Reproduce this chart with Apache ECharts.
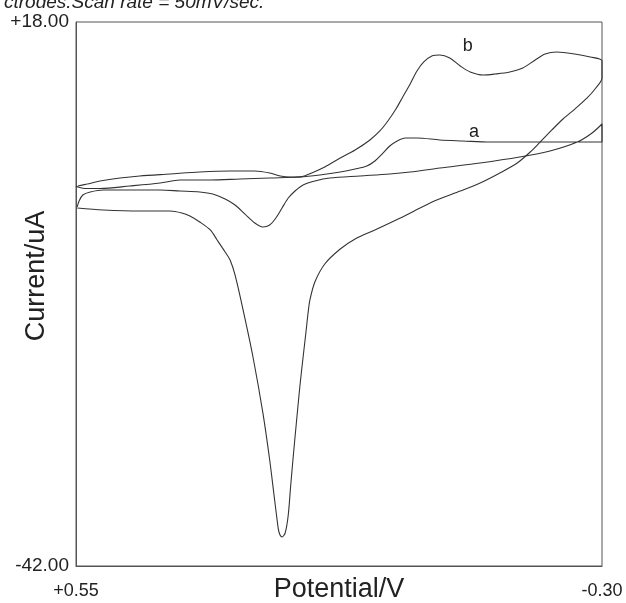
<!DOCTYPE html>
<html>
<head>
<meta charset="utf-8">
<script src="https://cdn.jsdelivr.net/npm/echarts@6/dist/echarts.min.js"></script>
<style>
  html, body { margin: 0; padding: 0; background: #fff; }
  #main { width: 626px; height: 603px; }
</style>
</head>
<body>
<div id="main"></div>
<script>
// potential (V) and current (uA), one closed scan per curve
const curveA_V = [0.548, 0.545, 0.539, 0.527, 0.506, 0.463, 0.414, 0.382, 0.350, 0.329, 0.309, 0.293, 0.277, 0.261, 0.248, 0.237, 0.227, 0.217, 0.207, 0.196, 0.183, 0.164, 0.140, 0.091, 0.043, 0.010, -0.038, -0.103, -0.167, -0.216, -0.260, -0.284, -0.300,
  -0.300, -0.232, -0.167, -0.119, -0.075, -0.038, -0.001, 0.018, 0.031, 0.043, 0.054, 0.067, 0.080, 0.099, 0.123, 0.156, 0.188, 0.237, 0.285, 0.333, 0.382, 0.414, 0.463, 0.511, 0.535, 0.547, 0.550];
const curveA_I = [-2.40, -1.74, -1.08, -0.75, -0.53, -0.53, -0.53, -0.64, -0.75, -0.97, -1.52, -2.18, -3.18, -4.17, -4.61, -4.39, -3.62, -2.51, -1.41, -0.64, 0.02, 0.46, 0.79, 1.02, 1.24, 1.46, 1.90, 2.45, 3.11, 3.77, 4.76, 5.76, 6.75,
  4.76, 4.76, 4.76, 4.76, 4.88, 4.99, 5.21, 5.21, 4.88, 4.32, 3.55, 2.67, 2.12, 1.79, 1.46, 1.13, 0.90, 0.79, 0.68, 0.57, 0.57, 0.24, -0.09, -0.37, -0.37, -0.20, -0.09];

const curveB_V = [0.548, 0.506, 0.447, 0.398, 0.379, 0.366, 0.350, 0.333, 0.322, 0.309, 0.301, 0.293, 0.280, 0.264, 0.248, 0.237, 0.230, 0.225, 0.222, 0.217, 0.212, 0.207, 0.203, 0.198, 0.193, 0.188, 0.183, 0.178, 0.175, 0.172, 0.164, 0.148, 0.123, 0.099, 0.067, 0.026, -0.006, -0.033, -0.071, -0.103, -0.135, -0.163, -0.184, -0.200, -0.219, -0.237, -0.256, -0.276, -0.290, -0.300,
  -0.300, -0.281, -0.256, -0.227, -0.208, -0.192, -0.172, -0.151, -0.127, -0.108, -0.087, -0.071, -0.054, -0.038, -0.025, -0.012, -0.001, 0.010, 0.022, 0.033, 0.046, 0.059, 0.075, 0.099, 0.123, 0.148, 0.169, 0.185, 0.204, 0.220, 0.237, 0.261, 0.301, 0.350, 0.398, 0.447, 0.479, 0.511, 0.532, 0.547];
const curveB_I = [-2.51, -2.73, -2.85, -2.85, -3.07, -3.40, -4.06, -4.94, -6.04, -7.37, -8.25, -9.90, -13.76, -18.95, -25.12, -30.31, -34.17, -36.93, -38.25, -38.80, -38.36, -36.37, -33.07, -29.21, -25.57, -22.04, -18.95, -15.97, -14.10, -12.66, -10.68, -8.69, -7.04, -5.93, -4.94, -3.62, -2.51, -1.63, -0.64, 0.24, 1.35, 2.45, 3.66, 4.76, 6.09, 7.30, 8.40, 9.62, 10.72, 11.82,
  13.70, 14.14, 14.47, 14.69, 14.47, 13.81, 12.93, 12.49, 12.26, 12.15, 12.49, 13.15, 14.03, 14.36, 14.25, 13.59, 12.60, 11.16, 9.73, 8.40, 7.08, 5.98, 4.99, 3.88, 3.00, 2.01, 1.35, 0.95, 0.90, 1.02, 1.35, 1.57, 1.57, 1.46, 1.24, 1.02, 0.79, 0.46, 0.13, -0.09];

const xTicks = [-0.30, 0.55];
const yTicks = [-42, 18];

function pairs(vs, is) {
  return vs.map((v, k) => [v, is[k]]);
}
function signed(v) {
  return (v > 0 ? '+' : '') + v.toFixed(2);
}

const chart = echarts.init(document.getElementById('main'));
const font = 'Liberation Sans, Arial, sans-serif';

let option = {
  animation: false,
  title: {
    text: 'ctrodes.Scan rate = 50mV/sec.',
    left: -1,
    top: -12,
    textStyle: { fontFamily: font, fontStyle: 'italic', fontWeight: 'normal', fontSize: 19, color: '#222' }
  },
  grid: {
    left: 76, right: 24, top: 22, bottom: 37,
    show: true, borderColor: '#555', borderWidth: 1,
    outerBoundsMode: 'none'
  },
  xAxis: {
    type: 'value',
    inverse: true,
    min: -0.30,
    max: 0.55,
    name: 'Potential/V',
    nameLocation: 'middle',
    nameGap: 10,
    nameMoveOverlap: false,
    nameTextStyle: { fontFamily: font, fontSize: 27, color: '#222' },
    axisLine: { onZero: false, lineStyle: { color: '#555' } },
    axisTick: { show: false },
    splitLine: { show: false },
    axisLabel: {
      customValues: xTicks,
      formatter: signed,
      fontFamily: font, fontSize: 18, color: '#222', margin: 16
    }
  },
  yAxis: {
    type: 'value',
    min: -42,
    max: 18,
    name: 'Current/uA',
    nameLocation: 'middle',
    nameGap: 26,
    nameMoveOverlap: false,
    nameTextStyle: { fontFamily: font, fontSize: 27, color: '#222', padding: [0, 0, 0, 36] },
    axisLine: { show: true, onZero: false, lineStyle: { color: '#555' } },
    axisTick: { show: false },
    splitLine: { show: false },
    axisLabel: {
      customValues: yTicks,
      formatter: signed,
      fontFamily: font, fontSize: 19, color: '#222', margin: 7
    }
  },
  series: [
    {
      name: 'a',
      type: 'line',
      data: pairs(curveA_V, curveA_I),
      showSymbol: false,
      smooth: 0.3,
      lineStyle: { color: '#333', width: 1.1 },
      markPoint: {
        symbol: 'circle', symbolSize: 0,
        label: { show: true, formatter: 'a', fontFamily: font, fontSize: 18, color: '#222' },
        data: [{ coord: [-0.093, 5.9] }]
      }
    },
    {
      name: 'b',
      type: 'line',
      data: pairs(curveB_V, curveB_I),
      showSymbol: false,
      smooth: 0.3,
      lineStyle: { color: '#333', width: 1.1 },
      markPoint: {
        symbol: 'circle', symbolSize: 0,
        label: { show: true, formatter: 'b', fontFamily: font, fontSize: 18, color: '#222' },
        data: [{ coord: [-0.083, 15.3] }]
      }
    }
  ]
};
chart.setOption(option);
</script>
</body>
</html>
